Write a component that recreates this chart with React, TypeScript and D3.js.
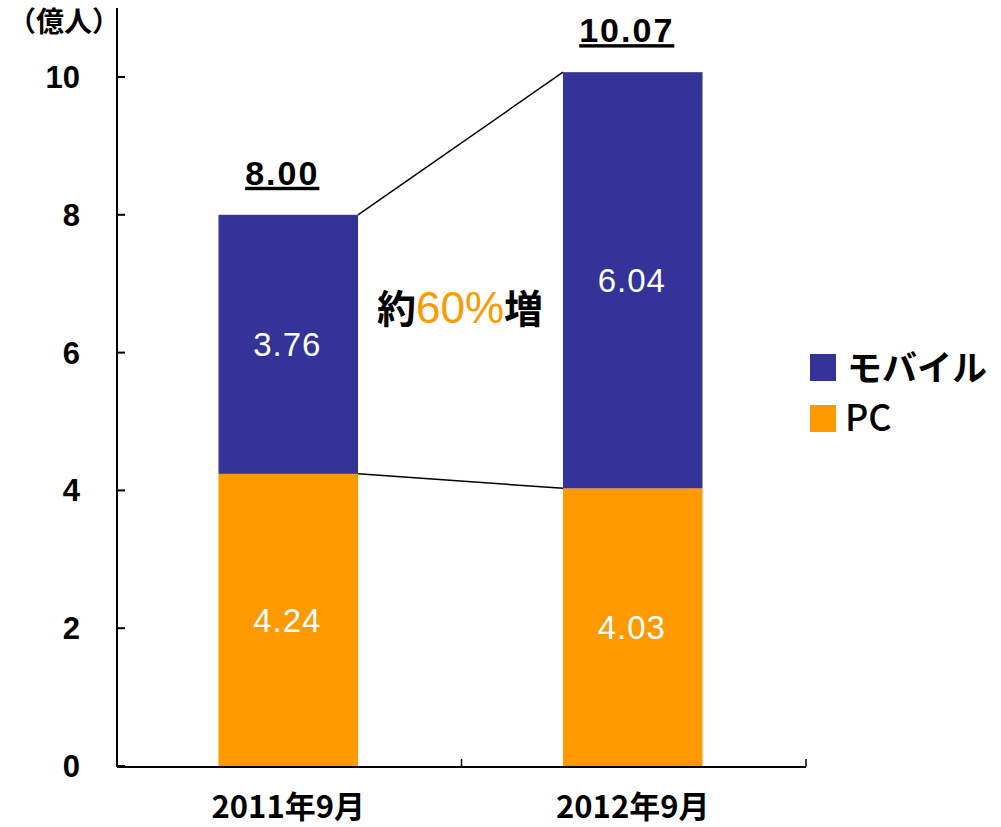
import React from "react";
import * as d3 from "d3";

const categories = ["2011年9月", "2012年9月"];
const pcValues = [4.24, 4.03];
const mobileValues = [3.76, 6.04];
const totals = ["8.00", "10.07"];
const yTicks = [0, 2, 4, 6, 8, 10];
const seriesNames = ["モバイル", "PC"];

const NAVY = "#333399";
const ORANGE = "#FF9900";
const jp = "'Noto Sans CJK JP', 'Liberation Sans', sans-serif";
const num = "'Liberation Sans', Arial, sans-serif";

export default function App() {
  const W = 1001, H = 827;
  const x0 = 117, x1 = 806, yTop = 8, yBase = 767;
  const y = d3.scaleLinear().domain([0, 10]).range([yBase - 1, 77]);
  const xBand = d3.scaleBand().domain(categories).range([x0, x1]).paddingInner(0).paddingOuter(0);
  const bw = xBand.bandwidth() * 0.405;
  const barX = (c: string) => (xBand(c) as number) + xBand.bandwidth() / 2 - bw / 2 - 1;

  const stacks = categories.map((c, i) => ({
    c,
    pc: [0, pcValues[i]],
    mob: [pcValues[i], pcValues[i] + mobileValues[i]],
  }));

  return (
    <svg width={W} height={H} style={{ position: "absolute", left: 0, top: 0 }}>
      <rect width={W} height={H} fill="#fff" />
      {/* axes */}
      <line x1={x0} x2={x0} y1={yTop} y2={yBase} stroke="#000" strokeWidth={2} />
      <line x1={x0} x2={x1} y1={yBase} y2={yBase} stroke="#000" strokeWidth={2} />
      {yTicks.map((t) => (
        <g key={t}>
          <line x1={x0} x2={x0 + 8} y1={y(t)} y2={y(t)} stroke="#000" strokeWidth={2} />
          <text x={80} y={y(t) + 11} textAnchor="end" fontFamily={num} fontWeight="bold" fontSize={31}>
            {t}
          </text>
        </g>
      ))}
      {[...categories.map((c) => xBand(c) as number), x1].slice(1).map((xx, i) => (
        <line key={i} x1={xx} x2={xx} y1={yBase} y2={yBase - 8} stroke="#000" strokeWidth={1.5} />
      ))}
      <text x={8} y={32} fontFamily={jp} fontWeight="bold" fontSize={28}>（億人）</text>

      {/* connector lines */}
      <line x1={barX(categories[0]) + bw} y1={y(stacks[0].mob[1])} x2={barX(categories[1])} y2={y(stacks[1].mob[1])} stroke="#000" strokeWidth={1.5} />
      <line x1={barX(categories[0]) + bw} y1={y(stacks[0].pc[1])} x2={barX(categories[1])} y2={y(stacks[1].pc[1])} stroke="#000" strokeWidth={1.5} />

      {stacks.map((s, i) => {
        const bx = barX(s.c);
        const cx = bx + bw / 2;
        return (
          <g key={s.c}>
            <rect x={bx} y={y(s.pc[1])} width={bw} height={y(s.pc[0]) - y(s.pc[1])} fill={ORANGE} />
            <rect x={bx} y={y(s.mob[1])} width={bw} height={y(s.mob[0]) - y(s.mob[1])} fill={NAVY} />
            <text x={cx - 1} y={(y(s.pc[0]) + y(s.pc[1])) / 2 + 12} textAnchor="middle" fill="#fff" fontFamily={num} fontSize={33} letterSpacing={1}>
              {pcValues[i].toFixed(2)}
            </text>
            <text x={cx - 1} y={(y(s.mob[0]) + y(s.mob[1])) / 2 + 12} textAnchor="middle" fill="#fff" fontFamily={num} fontSize={33} letterSpacing={1}>
              {mobileValues[i].toFixed(2)}
            </text>
            <text x={cx - 6} y={y(s.mob[1]) - 30} textAnchor="middle" fontFamily={num} fontWeight="bold" fontSize={34} letterSpacing={2} textDecoration="underline">
              {totals[i]}
            </text>
            <text x={cx} y={818} textAnchor="middle" fontFamily={jp} fontWeight="bold" fontSize={31}>
              {s.c}
            </text>
          </g>
        );
      })}

      <text x={460} y={323} textAnchor="middle" fontFamily={jp} fontWeight="bold" fontSize={39}>
        約<tspan fill={ORANGE} fontFamily={num} fontWeight="normal" fontSize={44}>60%</tspan>増
      </text>

      {/* legend */}
      <rect x={810} y={354} width={26} height={27} fill={NAVY} />
      <text x={847} y={381} fontFamily={jp} fontWeight="bold" fontSize={35}>{seriesNames[0]}</text>
      <rect x={810} y={405} width={26} height={27} fill={ORANGE} />
      <text x={845} y={431} fontFamily={jp} fontWeight={500} fontSize={36}>{seriesNames[1]}</text>
    </svg>
  );
}
